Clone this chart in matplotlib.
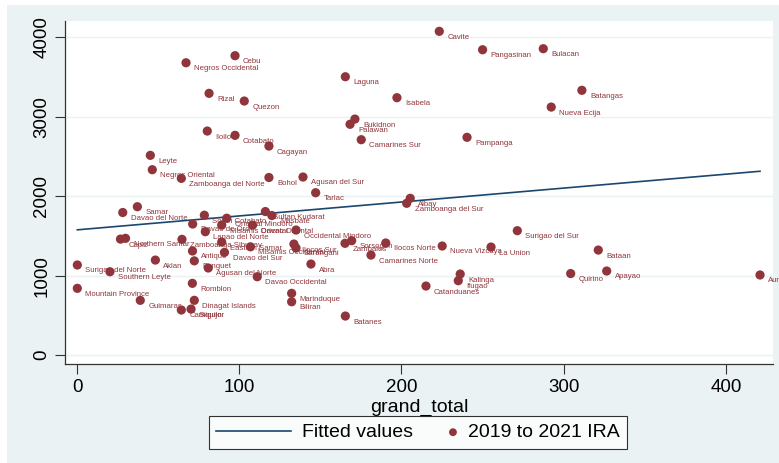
import numpy as np
import matplotlib.pyplot as plt
from matplotlib.patches import Rectangle
from matplotlib.legend_handler import HandlerPathCollection

# province labels, grand_total (x) and 2019 to 2021 IRA (y)
provinces = [
    "Cavite", "Pangasinan", "Bulacan", "Cebu", "Negros Occidental", "Laguna",
    "Rizal", "Batangas", "Isabela", "Quezon", "Nueva Ecija", "Bukidnon",
    "Palawan", "Iloilo", "Cotabato", "Pampanga", "Camarines Sur", "Cagayan",
    "Leyte", "Negros Oriental", "Zamboanga del Norte", "Bohol", "Agusan del Sur",
    "Tarlac", "Albay", "Zamboanga del Sur", "Samar", "Davao del Norte",
    "South Cotabato", "Sultan Kudarat", "Masbate", "Oriental Mindoro",
    "Davao de Oro", "Misamis Oriental", "Davao Oriental", "Lanao del Norte",
    "Occidental Mindoro", "Surigao del Sur", "Capiz", "Northern Samar",
    "Zamboanga Sibugay", "Eastern Samar", "Misamis Occidental", "Ilocos Sur",
    "Sarangani", "Zambales", "Sorsogon", "Ilocos Norte", "Nueva Vizcaya",
    "La Union", "Camarines Norte", "Bataan", "Antique", "Davao del Sur",
    "Aklan", "Benguet", "Surigao del Norte", "Agusan del Norte", "Abra",
    "Southern Leyte", "Kalinga", "Ifugao", "Quirino", "Apayao", "Aurora",
    "Davao Occidental", "Romblon", "Catanduanes", "Mountain Province",
    "Marinduque", "Biliran", "Guimaras", "Dinagat Islands", "Siquijor",
    "Camiguin", "Batanes",
]
grand_total = [
    223.3, 250.0, 287.4, 97.4, 67.2, 165.4,
    81.4, 311.2, 197.2, 103.1, 292.3, 171.3,
    168.3, 80.3, 97.4, 240.4, 175.2, 118.3,
    45.2, 46.4, 64.3, 118.3, 139.3,
    147.1, 205.4, 203.2, 37.2, 28.2,
    78.5, 116.1, 120.1, 92.3,
    71.3, 89.2, 108.2, 79.1,
    135.0, 271.4, 26.8, 29.9,
    64.7, 89.2, 106.9, 133.7,
    135.0, 165.2, 169.3, 190.3, 225.1,
    255.2, 181.2, 321.3, 71.2, 90.9,
    48.3, 72.3, 0.2, 80.9, 144.2,
    20.3, 236.2, 235.0, 304.3, 326.5, 421.0,
    111.1, 71.1, 215.1, 0.2,
    132.3, 132.3, 39.0, 72.3, 70.3,
    64.3, 165.4,
]
ira = [
    4077, 3845, 3858, 3770, 3681, 3505,
    3296, 3334, 3241, 3199, 3123, 2972,
    2906, 2821, 2767, 2742, 2712, 2632,
    2515, 2334, 2225, 2236, 2242,
    2044, 1974, 1911, 1868, 1795,
    1761, 1807, 1757, 1723,
    1650, 1637, 1635, 1553,
    1574, 1566, 1460, 1470,
    1457, 1423, 1363, 1398,
    1348, 1407, 1440, 1411, 1373,
    1360, 1259, 1322, 1310, 1293,
    1196, 1186, 1134, 1096, 1146,
    1049, 1020, 936, 1026, 1058, 1008,
    986, 903, 869, 840,
    777, 671, 689, 689, 579,
    567, 491,
]

x_ticks = [0, 100, 200, 300, 400]
y_ticks = [0, 1000, 2000, 3000, 4000]

maroon = "#90353B"
navy = "#1A476F"
bg = "#EAF2F3"


# put the legend dot at the right end of its handle box, like Stata does
class RightDot(HandlerPathCollection):
    def get_xdata(self, legend, xdescent, ydescent, width, height, fontsize):
        xd = [width - xdescent - 3]
        return xd, xd


plt.rcParams['font.family'] = ['Liberation Sans', 'DejaVu Sans']

fig = plt.figure(figsize=(7.79, 4.63), dpi=100, facecolor="white")
fig.patches.append(Rectangle((7 / 779, 0), 1, 1 - 5 / 463, transform=fig.transFigure,
                             facecolor=bg, edgecolor="none", zorder=-10))
ax = fig.add_axes([65 / 779, 1 - 364 / 463, 708 / 779, 343 / 463])

x = np.array(grand_total)
y = np.array(ira)

# linear fit, drawn over the range of x
b1, b0 = np.polyfit(x, y, 1)
xs = np.array([x.min(), x.max()])
ax.plot(xs, b0 + b1 * xs, color=navy, lw=1.2, label="Fitted values", zorder=2)

pts = ax.scatter(x, y, s=44, color=maroon, edgecolors="none", label="2019 to 2021 IRA", zorder=3)
for name, xi, yi in zip(provinces, x, y):
    ax.annotate(name, (xi, yi), xytext=(5.8, -4.3), textcoords="offset points",
                ha="left", va="center", fontsize=5.6, color=maroon, zorder=4,
                annotation_clip=False)

ax.set_xlim(-7.4, 429)
ax.set_ylim(-113, 4207)
ax.set_xticks(x_ticks)
ax.set_yticks(y_ticks)
ax.set_yticklabels([str(v) for v in y_ticks], rotation=90, va="center")
ax.tick_params(axis="both", labelsize=13.5, length=7, width=0.8, color="#333333", direction="out")
ax.set_xlabel("grand_total", fontsize=14, labelpad=2)

ax.grid(axis="y", color=bg, lw=1.0)
ax.set_axisbelow(True)
for side in ["top", "right"]:
    ax.spines[side].set_visible(False)
for side in ["left", "bottom"]:
    ax.spines[side].set_color("#333333")
    ax.spines[side].set_linewidth(0.9)

leg = fig.legend(loc="center", bbox_to_anchor=(418 / 779, 1 - 432.5 / 463), ncol=2,
                 fontsize=14, frameon=True, fancybox=False, edgecolor="black",
                 handlelength=3.86, handletextpad=0.55, columnspacing=-1.6,
                 borderpad=0.4, markerscale=0.85,
                 handler_map={pts: RightDot()})
leg.get_frame().set_linewidth(0.8)

fig.savefig("out.png", dpi=100, facecolor=fig.get_facecolor())
